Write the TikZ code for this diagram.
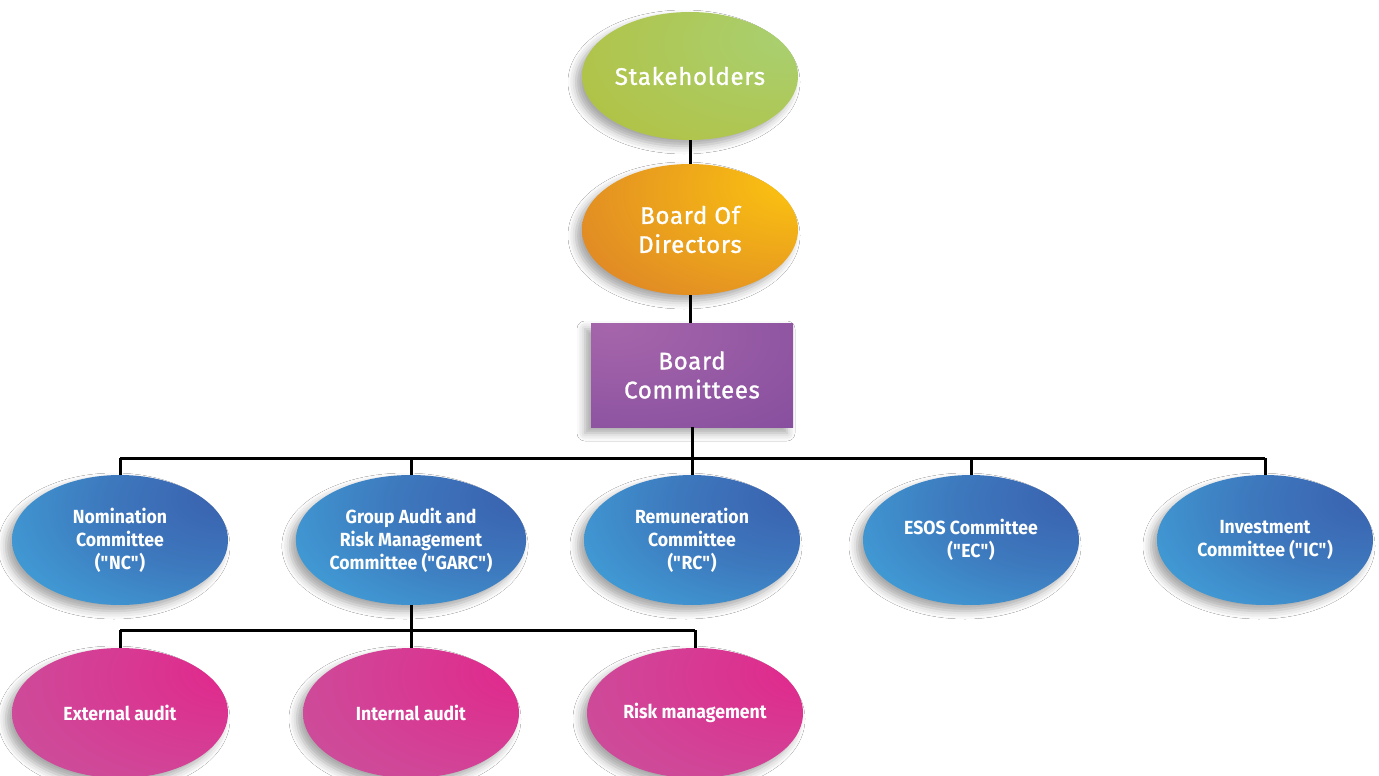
\documentclass[tikz,border=0pt]{standalone}
\usepackage{fontspec}
\newfontfamily\topfont[LetterSpace=3, FakeBold=1.2]{Fira Sans}
\newfontfamily\lowfont[FakeStretch=0.93]{Fira Sans}
\usetikzlibrary{shapes.geometric,shadows.blur}
\def\quoted#1{\textquotedbl#1\textquotedbl}

\definecolor{grnHi}{HTML}{A9D072}
\definecolor{grnLo}{HTML}{B4BD34}
\definecolor{orgHi}{HTML}{FDC70F}
\definecolor{orgLo}{HTML}{D8792B}
\definecolor{prpHi}{HTML}{A766AB}
\definecolor{prpLo}{HTML}{7A469A}
\definecolor{bluHi}{HTML}{3A5FAD}
\definecolor{bluMid}{HTML}{3D78BD}
\definecolor{bluLo}{HTML}{42AEE2}
\definecolor{pnkHi}{HTML}{E2268B}
\definecolor{pnkLo}{HTML}{C260A2}

\pgfdeclareradialshading{greenball}{\pgfpoint{25bp}{16bp}}{color(0bp)=(grnHi); color(65bp)=(grnLo); color(120bp)=(grnLo)}
\pgfdeclareradialshading{orangeball}{\pgfpoint{28bp}{20bp}}{color(0bp)=(orgHi); color(60bp)=(orgLo); color(120bp)=(orgLo)}
\pgfdeclareradialshading{purplebox}{\pgfpoint{-21bp}{25bp}}{color(0bp)=(prpHi); color(75bp)=(prpLo); color(120bp)=(prpLo)}
\pgfdeclareradialshading{blueball}{\pgfpoint{27bp}{18bp}}{color(0bp)=(bluHi); color(25bp)=(bluMid); color(58bp)=(bluLo); color(120bp)=(bluLo)}
\pgfdeclareradialshading{pinkball}{\pgfpoint{29bp}{18bp}}{color(0bp)=(pnkHi); color(70bp)=(pnkLo); color(120bp)=(pnkLo)}

\tikzset{
	softshadow/.style={blur shadow={shadow xshift=-6pt, shadow yshift=-6pt, shadow opacity=35, shadow blur radius=8pt}},
	oval/.style={ellipse, minimum width=216pt, minimum height=130pt, inner sep=0pt, align=center, text=white, softshadow},
	headoval/.style={oval, font=\topfont\fontsize{24}{29}\selectfont},
	cmtoval/.style={oval, shading=blueball, font=\lowfont\bfseries\fontsize{19}{23}\selectfont},
	taskoval/.style={oval, shading=pinkball, font=\lowfont\bfseries\fontsize{19}{23}\selectfont},
	link/.style={line width=3pt}
}

\begin{document}
\begin{tikzpicture}[x=1pt,y=-1pt]
	%%%%% START %%%%%
	\useasboundingbox[fill=white] (0, 0) rectangle (1379, 776);
	
	% top stack
	\node[headoval, shading=greenball, minimum height=128pt] (stake) at (690, 76) {Stakeholders};
	\node[headoval, shading=orangeball, minimum height=131pt] (bod) at (690, 229.5) {Board Of\\Directors};
	\node[rectangle, shading=purplebox, minimum width=202pt, minimum height=104pt, inner sep=0pt, align=center, text=white, softshadow, font=\topfont\fontsize{24}{29}\selectfont] (bc) at (692, 375) {Board\\Committees};
	
	% committees
	\node[cmtoval] (nc) at (120, 540) {Nomination\\Committee\\(\quoted{NC})};
	\node[cmtoval] (garc) at (411, 540) {Group Audit and\\Risk Management\\Committee (\quoted{GARC})};
	\node[cmtoval] (rc) at (692, 540) {Remuneration\\Committee\\(\quoted{RC})};
	\node[cmtoval] (ec) at (971, 540) {ESOS Committee\\(\quoted{EC})};
	\node[cmtoval] (ic) at (1265, 540) {Investment\\Committee (\quoted{IC})};
	
	% under GARC
	\node[taskoval] (ext) at (120, 713) {External audit};
	\node[taskoval] (int) at (411, 713) {Internal audit};
	\node[taskoval] (risk) at (695, 713) {Risk management};
	
	\coordinate (busA) at (692, 458);
	\coordinate (busB) at (411, 630);
	
	\draw[link] (stake.south) -- (bod.north);
	\draw[link] (bod.south) -- (bc.north -| bod.south);
	\draw[link] (bc.south) -- (busA);
	\draw[link] (nc.north |- busA) -- (ic.north |- busA);
	\foreach \n in {nc, garc, rc, ec, ic}
		\draw[link] (\n.north) -- (\n.north |- busA);
	
	\draw[link] (garc.south) -- (busB);
	\draw[link] (ext.north |- busB) -- (risk.north |- busB);
	\foreach \n in {ext, int, risk}
		\draw[link] (\n.north) -- (\n.north |- busB);
	%%%%% END %%%%%
\end{tikzpicture}
\end{document}
